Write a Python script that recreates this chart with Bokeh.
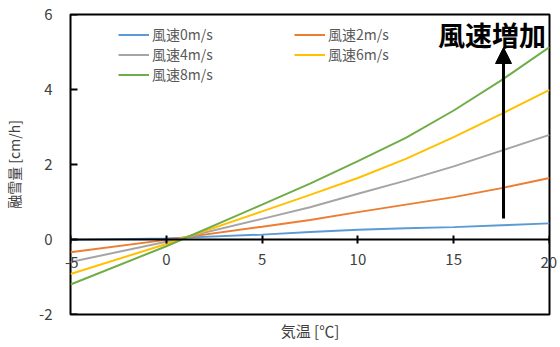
from bokeh.plotting import figure
from bokeh.models import (Legend, LegendItem, FixedTicker, Label, Arrow, NormalHead, Range1d,
                          Title, LinearAxis)
from bokeh.embed import file_html
from bokeh.resources import INLINE

# Data
temps = [-5, 0, 5, 7.5, 10, 12.5, 15, 17.5, 20]
wind_0 = [-0.01, 0.03, 0.13, 0.20, 0.26, 0.30, 0.33, 0.38, 0.43]
wind_2 = [-0.34, -0.01, 0.34, 0.52, 0.73, 0.93, 1.13, 1.37, 1.64]
wind_4 = [-0.60, -0.06, 0.55, 0.86, 1.22, 1.57, 1.95, 2.37, 2.79]
wind_6 = [-0.92, -0.12, 0.75, 1.19, 1.64, 2.15, 2.73, 3.35, 3.99]
wind_8 = [-1.20, -0.18, 0.93, 1.49, 2.09, 2.71, 3.44, 4.25, 5.13]
series_labels = ["風速0m/s", "風速2m/s", "風速4m/s", "風速6m/s", "風速8m/s"]
series_colors = ["#5B9BD5", "#ED7D31", "#A5A5A5", "#FFC000", "#70AD47"]
x_ticks = [-5, 0, 5, 10, 15, 20]
y_ticks = [-2, 0, 2, 4, 6]
x_title = "気温 [℃]"
y_title = "融雪量 [cm/h]"
annotation_text = "風速増加"
arrow_x = 17.6
arrow_y0 = 0.56
arrow_y1 = 5.12
annot_x = 17.0
annot_y = 5.47

FONT = "Noto Sans CJK JP"
TXT = "#404040"
X_LABEL_ROW = -0.6  # vertical position (data) of the x tick label row, used for edge labels

p = figure(width=560, height=347, output_backend="svg", toolbar_location=None,
           x_range=Range1d(-5, 20), y_range=Range1d(-2, 6),
           min_border_left=70, min_border_right=11, min_border_top=14, min_border_bottom=33)
p.outline_line_color = "black"
p.outline_line_width = 2
p.xgrid.visible = False
p.ygrid.visible = False
p.background_fill_color = "white"
p.border_fill_color = "white"

series = [wind_0, wind_2, wind_4, wind_6, wind_8]
renderers = []
for ys, c in zip(series, series_colors):
    renderers.append(p.line(temps, ys, line_color=c, line_width=2))

# X axis drawn at y = 0 (edge labels are drawn by the side axes so they are not clipped)
xa = p.xaxis[0]
xa.fixed_location = 0
xa.ticker = FixedTicker(ticks=x_ticks)
xa.major_label_overrides = {x_ticks[0]: "", x_ticks[-1]: ""}
xa.axis_line_color = "black"
xa.axis_line_width = 2
xa.major_tick_in = 4
xa.major_tick_out = 4
xa.major_tick_line_width = 2
xa.minor_tick_line_color = None
xa.major_label_standoff = 10
xa.major_label_text_font = FONT
xa.major_label_text_font_size = "15px"
xa.major_label_text_color = TXT

p.add_layout(Title(text=x_title, align="center", text_font=FONT, text_font_size="15px",
                   text_font_style="normal", text_color=TXT, standoff=6), "below")

# Y-axis tick marks pointing inward
p.scatter(x=[x_ticks[0]] * len(y_ticks), y=y_ticks, marker="dash", size=14,
          line_color="black", line_width=2)

ya = p.yaxis[0]
ya.ticker = FixedTicker(ticks=y_ticks)
ya.major_label_overrides = {t: str(t) for t in y_ticks}
ya.axis_line_color = None
ya.major_tick_in = 0
ya.major_tick_out = 0
ya.major_tick_line_color = None
ya.minor_tick_line_color = None
ya.major_label_standoff = 9
ya.major_label_text_font = FONT
ya.major_label_text_font_size = "15px"
ya.major_label_text_color = TXT
ya.axis_label = y_title
ya.axis_label_text_font = FONT
ya.axis_label_text_font_size = "14px"
ya.axis_label_text_font_style = "normal"
ya.axis_label_text_color = TXT
ya.axis_label_standoff = 12

def edge_axis(label, standoff):
    return LinearAxis(ticker=FixedTicker(ticks=[X_LABEL_ROW]),
                      major_label_overrides={X_LABEL_ROW: label},
                      axis_line_color=None, major_tick_line_color=None,
                      minor_tick_line_color=None, major_tick_in=0, major_tick_out=0,
                      major_label_standoff=standoff, major_label_text_font=FONT,
                      major_label_text_font_size="15px", major_label_text_color=TXT)

left_edge = edge_axis(str(x_ticks[0]), -8)
right_edge = edge_axis(str(x_ticks[-1]), -9)
p.left = [left_edge, ya]
p.add_layout(right_edge, "right")

def make_legend(idx, loc):
    leg = Legend(items=[LegendItem(label=series_labels[i], renderers=[renderers[i]]) for i in idx],
                 location=loc, orientation="vertical",
                 label_text_font=FONT, label_text_font_size="14px", label_text_color="#595959",
                 glyph_width=31, glyph_height=19, label_height=19, label_standoff=3,
                 spacing=0, padding=0, margin=0,
                 border_line_alpha=0, background_fill_alpha=0)
    return leg

p.add_layout(make_legend([0, 2, 4], (48, 230)))
p.add_layout(make_legend([1, 3], (224, 250)))

p.add_layout(Arrow(end=NormalHead(size=16, fill_color="black", line_color="black"),
                   x_start=arrow_x, y_start=arrow_y0, x_end=arrow_x, y_end=arrow_y1,
                   line_color="black", line_width=3))
p.add_layout(Label(x=annot_x, y=annot_y, text=annotation_text, text_align="center",
                   text_baseline="middle", text_font=FONT, text_font_size="27px",
                   text_font_style="bold", text_color="black"))

open("out.html", "w").write(file_html(p, INLINE))
